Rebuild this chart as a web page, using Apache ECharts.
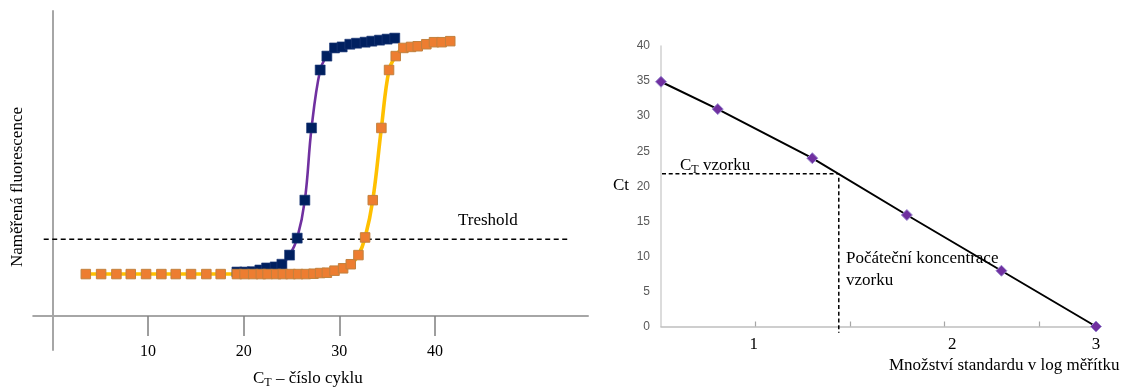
<!DOCTYPE html>
<html>
<head>
<meta charset="utf-8">
<script src="https://cdn.jsdelivr.net/npm/echarts@6/dist/echarts.min.js"></script>
<style>
  html, body { margin: 0; padding: 0; background: #ffffff; }
  #chart { width: 1125px; height: 392px; }
</style>
</head>
<body>
<div id="chart"></div>
<script>
// ---- Amplification curves: cycle number vs. measured fluorescence ----
const earlyCycles = [19.3, 20.1, 20.9, 21.7, 22.4, 23.3, 24.0, 24.8, 25.6, 26.4, 27.1, 28.0, 28.7, 29.5, 30.3, 31.1, 31.8, 32.7, 33.4, 34.2, 35.0, 35.8];
const earlyFluor  = [13.0, 13.0, 13.1, 13.6, 14.2, 14.5, 15.3, 18.0, 23.0, 34.2, 55.5, 72.6, 76.7, 79.1, 79.4, 80.2, 80.5, 80.8, 81.1, 81.4, 81.7, 82.0];

const lateCycles = [3.5, 5.1, 6.7, 8.2, 9.8, 11.4, 12.9, 14.5, 16.1, 17.6, 19.3, 20.1, 21.0, 21.8, 22.5, 23.4, 24.1, 24.9, 25.7, 26.5, 27.3, 28.0, 28.7, 29.5, 30.4, 31.2, 32.0, 32.7, 33.5, 34.4, 35.2, 35.9, 36.7, 37.5, 38.2, 39.1, 39.9, 40.7, 41.6];
const lateFluor  = [12.4, 12.4, 12.4, 12.4, 12.4, 12.4, 12.4, 12.4, 12.4, 12.4, 12.4, 12.4, 12.4, 12.4, 12.4, 12.4, 12.4, 12.4, 12.4, 12.4, 12.5, 12.7, 12.8, 13.4, 14.1, 15.3, 18.0, 23.2, 34.2, 55.5, 72.6, 76.7, 79.1, 79.4, 79.6, 80.2, 80.8, 80.8, 81.1];

const thresholdLevel = 22.7;
const thresholdSpan = [-0.9, 53.9];
const cycleTicks = [10, 20, 30, 40];

// ---- Standard curve: log quantity vs. Ct ----
const stdLogQty = [0.7, 1.0, 1.5, 2.0, 2.5, 3.0];
const stdCt     = [34.9, 31.0, 24.0, 15.9, 7.95, 0];
const sampleCt = 21.8;
const sampleLogQty = 1.64;
const ctGuideStart = 0.67;   // horizontal guide starts just left of the axis
const concGuideEnd = -0.9;   // vertical guide runs slightly below the axis
const logQtyTickMarks = [1.2, 1.7, 2.2, 2.7];
const logQtyLabels = ['1', '2', '3'];
const logQtyLabelAt = [1.19, 2.24, 3.0];

const pairs = (xs, ys) => xs.map((x, i) => [x, ys[i]]);

const SERIF = '"Liberation Serif", "DejaVu Serif", serif';
const subRich = {
  sub: { fontFamily: SERIF, fontSize: 12, padding: [9, 0, 0, 0], color: '#000' }
};

const chart = echarts.init(document.getElementById('chart'));

chart.setOption({
  animation: false,
  backgroundColor: '#ffffff',
  grid: [
    { left: 33.2, top: 11, width: 554.8, height: 339, containLabel: false, outerBoundsMode: 'none' },
    { left: 661, top: 46, width: 435, height: 280.5, containLabel: false, outerBoundsMode: 'none' }
  ],
  xAxis: [
    {
      type: 'value', gridIndex: 0, min: -2, max: 56,
      axisLine: { show: true, onZero: true, lineStyle: { color: '#A6A6A6', width: 2 } },
      axisTick: { show: true, customValues: cycleTicks, length: 20, lineStyle: { color: '#7F7F7F', width: 1.5 } },
      // labels sit just below the tick marks, above the lower edge of the plot box
      axisLabel: { show: true, customValues: cycleTicks, margin: -6, fontFamily: SERIF, fontSize: 16, color: '#000' },
      splitLine: { show: false }
    },
    {
      type: 'value', gridIndex: 1, min: 0.7, max: 3.0,
      axisLine: { show: true, onZero: false, lineStyle: { color: '#BFBFBF', width: 1.5 } },
      axisTick: { show: true, inside: true, customValues: logQtyTickMarks, length: 5, lineStyle: { color: '#A6A6A6', width: 1.2 } },
      axisLabel: {
        show: true, customValues: logQtyLabelAt, margin: 10, fontFamily: SERIF, fontSize: 17, color: '#000',
        formatter: function (v) {
          let best = 0;
          logQtyLabelAt.forEach((p, i) => { if (Math.abs(p - v) < Math.abs(logQtyLabelAt[best] - v)) best = i; });
          return logQtyLabels[best];
        }
      },
      splitLine: { show: false }
    }
  ],
  yAxis: [
    {
      type: 'value', gridIndex: 0, min: -10, max: 90,
      axisLine: { show: true, onZero: true, lineStyle: { color: '#A6A6A6', width: 2 } },
      axisTick: { show: false },
      axisLabel: { show: false },
      splitLine: { show: false }
    },
    {
      type: 'value', gridIndex: 1, min: 0, max: 40, interval: 5,
      axisLine: { show: true, onZero: false, lineStyle: { color: '#D0D0D0', width: 1.5 } },
      axisTick: { show: false },
      axisLabel: { show: true, margin: 11, fontFamily: '"Liberation Sans", sans-serif', fontSize: 12, color: '#595959' },
      splitLine: { show: false }
    }
  ],
  series: [
    {
      name: 'threshold', type: 'line', xAxisIndex: 0, yAxisIndex: 0,
      data: thresholdSpan.map(x => [x, thresholdLevel]),
      symbol: 'none', silent: true,
      lineStyle: { color: '#000', width: 1.5, type: [5, 3.5] }
    },
    {
      name: 'early', type: 'line', xAxisIndex: 0, yAxisIndex: 0,
      data: pairs(earlyCycles, earlyFluor),
      smooth: 0.4,
      symbol: 'rect', symbolSize: 10,
      lineStyle: { color: '#7030A0', width: 2.6 },
      itemStyle: { color: '#002060', borderColor: '#1F3A78', borderWidth: 0.6 }
    },
    {
      name: 'late', type: 'line', xAxisIndex: 0, yAxisIndex: 0,
      data: pairs(lateCycles, lateFluor),
      smooth: 0.4,
      symbol: 'rect', symbolSize: 9.5,
      lineStyle: { color: '#FFC000', width: 3.6 },
      itemStyle: { color: '#ED7D31', borderColor: '#C2813E', borderWidth: 1 }
    },
    {
      name: 'standard', type: 'line', xAxisIndex: 1, yAxisIndex: 1,
      data: pairs(stdLogQty, stdCt),
      symbol: 'diamond', symbolSize: 11, clip: false,
      lineStyle: { color: '#000', width: 2 },
      itemStyle: { color: '#7030A0', borderColor: '#9B8BD0', borderWidth: 1 }
    },
    {
      name: 'sample guides', type: 'line', xAxisIndex: 1, yAxisIndex: 1,
      data: [[ctGuideStart, sampleCt], [sampleLogQty, sampleCt], [sampleLogQty, concGuideEnd]],
      symbol: 'none', silent: true, clip: false, z: 1,
      lineStyle: { color: '#000', width: 1.5, type: [4, 2.7] }
    }
  ],
  graphic: [
    { type: 'text', left: 458, top: 212, style: { text: 'Treshold', fontFamily: SERIF, fontSize: 17, fill: '#000' } },
    {
      type: 'text', x: 18, y: 187, rotation: Math.PI / 2,
      style: { text: 'Naměřená fluorescence', fontFamily: SERIF, fontSize: 17, fill: '#000', align: 'center', verticalAlign: 'middle' }
    },
    {
      type: 'text', left: 253, top: 370,
      style: { text: 'C{sub|T} – číslo cyklu', fontFamily: SERIF, fontSize: 17, fill: '#000', rich: subRich }
    },
    {
      type: 'text', left: 680, top: 157,
      style: { text: 'C{sub|T} vzorku', fontFamily: SERIF, fontSize: 17, fill: '#000', rich: subRich }
    },
    {
      type: 'text', left: 846, top: 248,
      style: { text: 'Počáteční koncentrace\nvzorku', fontFamily: SERIF, fontSize: 17, lineHeight: 22, fill: '#000' }
    },
    { type: 'text', left: 613, top: 177, style: { text: 'Ct', fontFamily: SERIF, fontSize: 17, fill: '#000' } },
    { type: 'text', left: 889, top: 357, style: { text: 'Množství standardu v log měřítku', fontFamily: SERIF, fontSize: 17, fill: '#000' } }
  ]
});
</script>
</body>
</html>
